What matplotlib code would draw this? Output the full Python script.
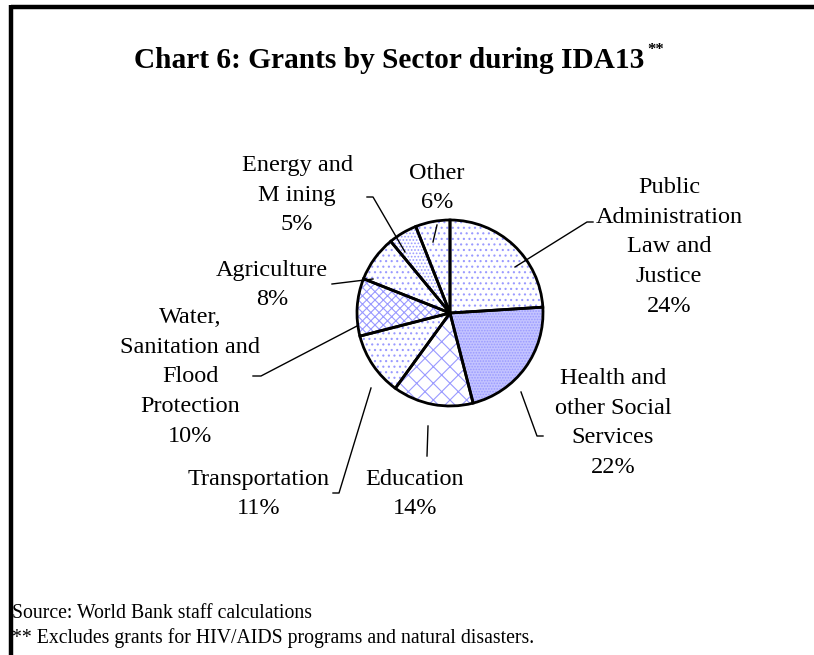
import matplotlib
matplotlib.use('Agg')
import matplotlib.pyplot as plt

plt.rcParams['font.family'] = ['Liberation Serif', 'DejaVu Serif']
plt.rcParams['hatch.linewidth'] = 0.8

# sector shares (%), clockwise from 12 o'clock
sectors = ['Public\nAdministration\nLaw and\nJustice', 'Health and\nother Social\nServices',
           'Education', 'Transportation', 'Water,\nSanitation and\nFlood\nProtection',
           'Agriculture', 'Energy and\nM ining', 'Other']
shares = [24, 22, 14, 11, 10, 8, 5, 6]
hatches = ['...', '......', 'xx', '...', 'xxxx', '...', '.....', '...']
faces = ['white', '#c4c4ff', 'white', 'white', 'white', 'white', 'white', 'white']

# label centres and leader lines (pixel coords, y from top)
label_pos = [(669, 247), (613, 423), (415, 494), (259, 494), (190, 377), (272, 285), (297, 195), (437, 188)]
leaders = [[(515, 267), (587, 222), (593, 222)],
           [(521, 392), (537, 436), (543, 436)],
           [(428, 426), (427, 456)],
           [(371, 388), (339, 493), (333, 493)],
           [(357, 326), (261, 376), (253, 376)],
           [(373, 279), (332, 284)],
           [(405, 252), (373, 197), (367, 197)],
           [(433, 242), (437, 225)]]

H = 655
fig = plt.figure(figsize=(8.14, 6.55), dpi=100)
ax = fig.add_axes([0, 0, 1, 1])

cx, cy, r = 450, H - 313, 93
wedges, _ = ax.pie(shares, startangle=90, counterclock=False, center=(cx, cy), radius=r,
                   colors=faces, wedgeprops=dict(linewidth=0, edgecolor='#9a9aff'))
for w, h in zip(wedges, hatches):
    w.set_hatch(h)
ax.pie(shares, startangle=90, counterclock=False, center=(cx, cy), radius=r,
       wedgeprops=dict(linewidth=2, edgecolor='black', fill=False))

for name, val, (px, py) in zip(sectors, shares, label_pos):
    ax.text(px, H - py, f'{name}\n{val}%', ha='center', va='center', fontsize=17.5,
            linespacing=1.55, color='black')

for pts in leaders:
    ax.plot([p[0] for p in pts], [H - p[1] for p in pts], color='black', lw=1)

ax.text(389, H - 61, 'Chart 6: Grants by Sector during IDA13', ha='center', va='center',
        fontsize=21.2, fontweight='bold')
ax.text(647, H - 50, '**', ha='left', va='center', fontsize=12, fontweight='bold')

ax.text(12, H - 613, 'Source: World Bank staff calculations', ha='left', va='center', fontsize=14.2)
ax.text(12, H - 638, '** Excludes grants for HIV/AIDS programs and natural disasters.',
        ha='left', va='center', fontsize=14.2)

# frame lines (top and left)
ax.plot([11, 814], [H - 7, H - 7], color='black', lw=3.2, solid_capstyle='butt')
ax.plot([11, 11], [H - 5, 0], color='black', lw=3.2, solid_capstyle='butt')

ax.set_xlim(0, 814)
ax.set_ylim(0, H)
ax.set_aspect('auto')
ax.axis('off')

fig.savefig('out.png', dpi=100)
